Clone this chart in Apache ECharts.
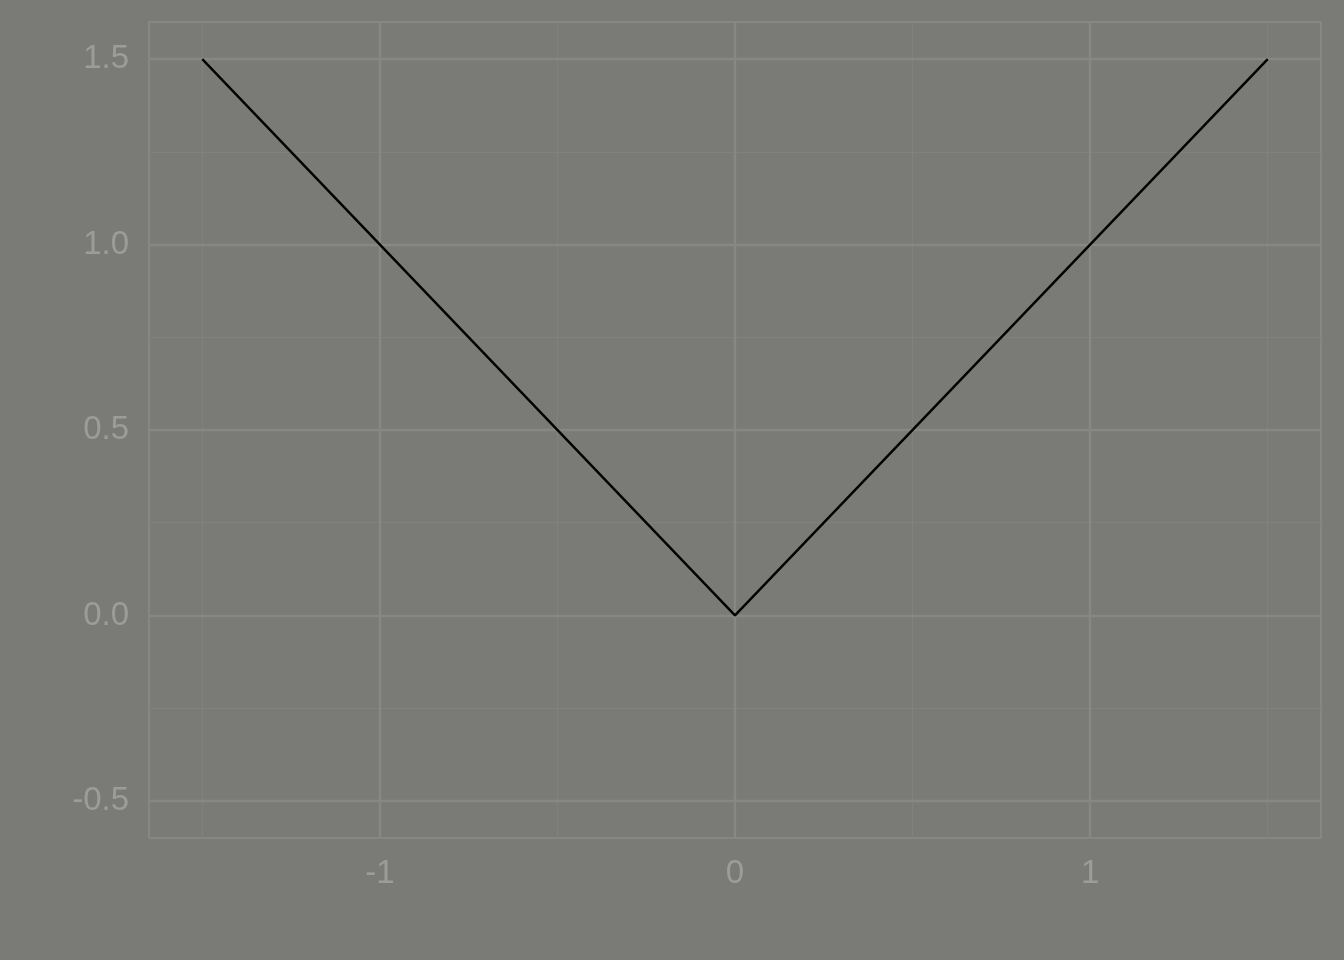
<!DOCTYPE html>
<html>
<head>
<meta charset="utf-8">
<script src="https://cdn.jsdelivr.net/npm/echarts@6/dist/echarts.min.js"></script>
<style>
html,body{margin:0;padding:0;background:#7a7b76;}
#c{width:1344px;height:960px;}
</style>
</head>
<body>
<div id="c"></div>
<script>
const xValues = [-1.5, 0, 1.5];
const yValues = [1.5, 0, 1.5];
const xTicks = [-1, 0, 1];
const yTicks = [-0.5, 0, 0.5, 1, 1.5];
const xMinor = [-1.5, -0.5, 0.5, 1.5];
const yMinor = [-0.25, 0.25, 0.75, 1.25];
const xRange = [-1.65, 1.65];
const yRange = [-0.6, 1.6];

const bg = '#7a7b76';
const majorColor = '#878883';
const minorColor = '#81827d';
const tickColor = '#8a8b86';
const textColor = '#9c9d98';

const chart = echarts.init(document.getElementById('c'), null, {renderer: 'canvas'});

function gridLines(vals, axis, color, width) {
  return vals.map(v => ({[axis]: v, lineStyle: {color: color, width: width, type: 'solid'}}));
}

const option = {
  backgroundColor: bg,
  animation: false,
  grid: {
    left: 149, top: 22, width: 1172, height: 816,
    show: true, borderColor: '#8b8c87', borderWidth: 1.5, backgroundColor: 'transparent'
  },
  xAxis: {
    type: 'value', min: xRange[0], max: xRange[1],
    axisLine: {show: false},
    splitLine: {show: false},
    axisTick: {show: true, customValues: xTicks, length: 11, lineStyle: {color: tickColor, width: 2}},
    axisLabel: {customValues: xTicks, color: textColor, fontSize: 33, fontFamily: 'Liberation Sans, Arial, sans-serif', margin: 19,
      formatter: v => String(v)}
  },
  yAxis: {
    type: 'value', min: yRange[0], max: yRange[1],
    axisLine: {show: false},
    splitLine: {show: false},
    axisTick: {show: true, customValues: yTicks, length: 11, lineStyle: {color: tickColor, width: 2}},
    axisLabel: {customValues: yTicks, color: textColor, fontSize: 33, fontFamily: 'Liberation Sans, Arial, sans-serif', margin: 20,
      formatter: v => v.toFixed(1)}
  },
  series: [
    {
      type: 'line', data: [], z: 1, silent: true,
      markLine: {
        silent: true, symbol: ['none', 'none'], animation: false,
        label: {show: false}, emphasis: {disabled: true},
        data: [].concat(
          gridLines(xMinor, 'xAxis', minorColor, 1.2),
          gridLines(yMinor, 'yAxis', minorColor, 1.2),
          gridLines(xTicks, 'xAxis', majorColor, 2.4),
          gridLines(yTicks, 'yAxis', majorColor, 2.4)
        )
      }
    },
    {
      type: 'line', z: 5,
      data: xValues.map((x, i) => [x, yValues[i]]),
      symbol: 'none',
      lineStyle: {color: '#000000', width: 2.4},
      silent: true
    }
  ]
};
chart.setOption(option);
</script>
</body>
</html>
